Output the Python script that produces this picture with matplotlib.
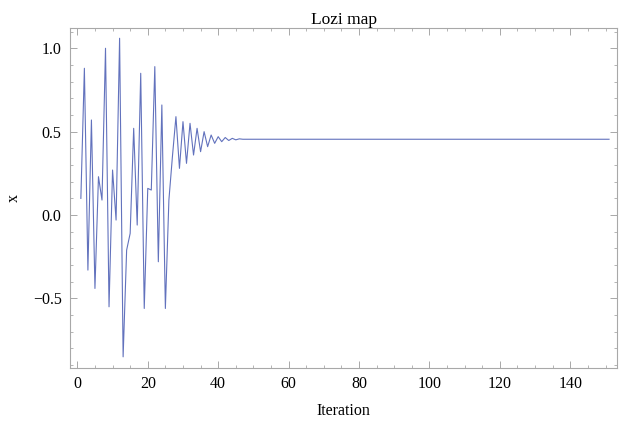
import matplotlib.pyplot as plt
from matplotlib.ticker import MultipleLocator

# first transient iterations of the orbit, then it settles on the fixed point
x_transient = [0.10, 0.88, -0.33, 0.57, -0.44, 0.23, 0.09, 1.00, -0.55, 0.27,
               -0.03, 1.06, -0.85, -0.21, -0.11, 0.52, -0.06, 0.85, -0.56, 0.16,
               0.15, 0.89, -0.28, 0.66, -0.56, 0.09, 0.35, 0.59, 0.28, 0.56,
               0.31, 0.55, 0.36, 0.52, 0.38, 0.50, 0.41, 0.48, 0.43, 0.47,
               0.44, 0.465, 0.447, 0.460, 0.451, 0.457]
x_fixed = 0.4545
n_iter = 151

xs = x_transient + [x_fixed] * (n_iter - len(x_transient))
iters = list(range(1, n_iter + 1))

plt.rcParams['font.family'] = ['Liberation Serif', 'DejaVu Serif']

fig = plt.figure(figsize=(6.19, 4.23), dpi=100)
ax = fig.add_axes([0.113, 0.130, 0.884, 0.804])

ax.plot(iters, xs, color='#6272bd', lw=0.8)

ax.set_xlim(-2.1, 153.3)
ax.set_ylim(-0.917, 1.122)

ax.xaxis.set_major_locator(MultipleLocator(20))
ax.xaxis.set_minor_locator(MultipleLocator(5))
ax.yaxis.set_major_locator(MultipleLocator(0.5))
ax.yaxis.set_minor_locator(MultipleLocator(0.1))

for s in ax.spines.values():
    s.set_color('#a8a8a8')
    s.set_linewidth(0.8)

ax.tick_params(which='both', direction='in', top=True, right=True,
               color='#a8a8a8', labelsize=11.5, pad=6)
ax.tick_params(which='major', length=5, width=0.7)
ax.tick_params(which='minor', length=2.5, width=0.6)

ax.set_title('Lozi map', fontsize=12.5, pad=3)
ax.set_xlabel('Iteration', fontsize=11.5, labelpad=8)
ax.set_ylabel('x', fontsize=11.5, labelpad=8)

fig.savefig('out.png', dpi=100)
